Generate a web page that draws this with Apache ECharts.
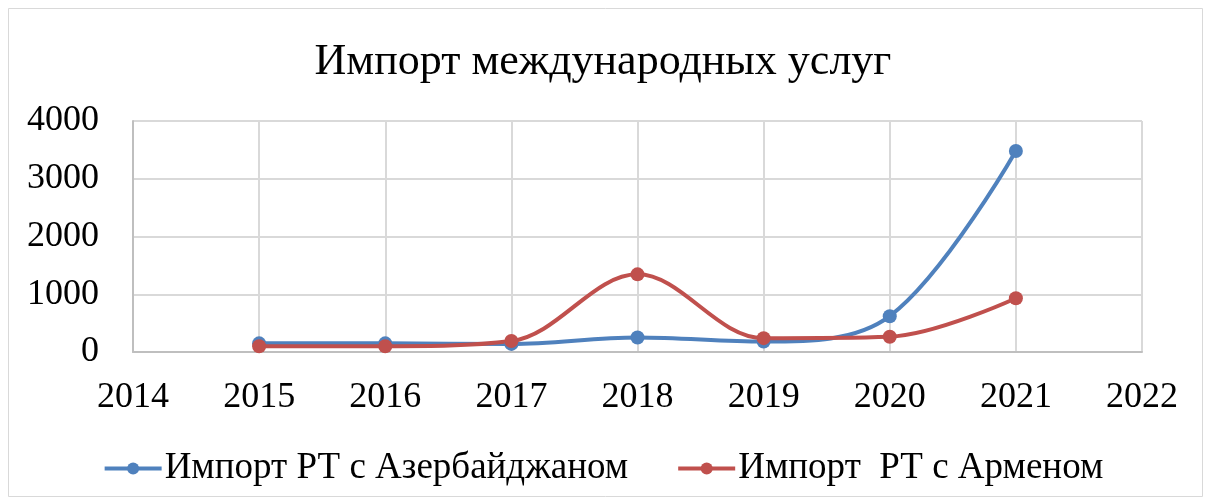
<!DOCTYPE html>
<html><head><meta charset="utf-8">
<script src="https://cdn.jsdelivr.net/npm/echarts@6/dist/echarts.min.js"></script>
<style>html,body{margin:0;padding:0;background:#fff}#c{width:1206px;height:500px}</style>
</head><body><div id="c"></div>
<script>
const years = [2015, 2016, 2017, 2018, 2019, 2020, 2021];
const azerbaijan = [150, 150, 140, 250, 180, 620, 3480];
const armenia = [100, 100, 190, 1345, 240, 265, 930];
const seriesNames = ['Импорт РТ с Азербайджаном', 'Импорт  РТ с Арменом'];
const titleText = 'Импорт международных услуг';

const font = '"Liberation Serif", "DejaVu Serif", serif';
const chart = echarts.init(document.getElementById('c'));
chart.setOption({
  animation: false,
  backgroundColor: '#fff',
  graphic: [{type: 'rect', shape: {x: 8.5, y: 8.5, width: 1194, height: 488}, style: {fill: 'none', stroke: '#d9d9d9', lineWidth: 1}}],
  title: {text: titleText, left: 'center', top: 35, textStyle: {fontFamily: font, fontSize: 44, fontWeight: 'normal', color: '#000'}},
  legend: {
    top: 445, left: 'center', itemGap: 48, itemWidth: 57, itemHeight: 15,
    lineStyle: {width: 4},
    textStyle: {fontFamily: font, fontSize: 37, color: '#000', padding: [0, 0, 0, -2]},
    data: seriesNames
  },
  grid: {left: 133, right: 64, top: 121, bottom: 148},
  xAxis: {
    type: 'value', min: 2014, max: 2022, interval: 1,
    axisLine: {show: true, lineStyle: {color: '#bfbfbf', width: 2}},
    axisTick: {show: false},
    splitLine: {show: true, lineStyle: {color: '#d9d9d9', width: 2}},
    axisLabel: {fontFamily: font, fontSize: 36, color: '#000', margin: 28, formatter: v => String(v)}
  },
  yAxis: {
    type: 'value', min: 0, max: 4000, interval: 1000,
    axisLine: {show: true, lineStyle: {color: '#bfbfbf', width: 2}},
    axisTick: {show: false},
    splitLine: {show: true, lineStyle: {color: '#d9d9d9', width: 2}},
    axisLabel: {fontFamily: font, fontSize: 36, color: '#000', margin: 34, formatter: v => String(v)}
  },
  series: [
    {name: seriesNames[0], type: 'line', smooth: 0.35, symbol: 'circle', symbolSize: 14,
     data: years.map((y, i) => [y, azerbaijan[i]]),
     lineStyle: {color: '#4f81bd', width: 4}, itemStyle: {color: '#4f81bd'}},
    {name: seriesNames[1], type: 'line', smooth: 0.35, symbol: 'circle', symbolSize: 14,
     data: years.map((y, i) => [y, armenia[i]]),
     lineStyle: {color: '#c0504d', width: 4}, itemStyle: {color: '#c0504d'}}
  ]
});
</script></body></html>
